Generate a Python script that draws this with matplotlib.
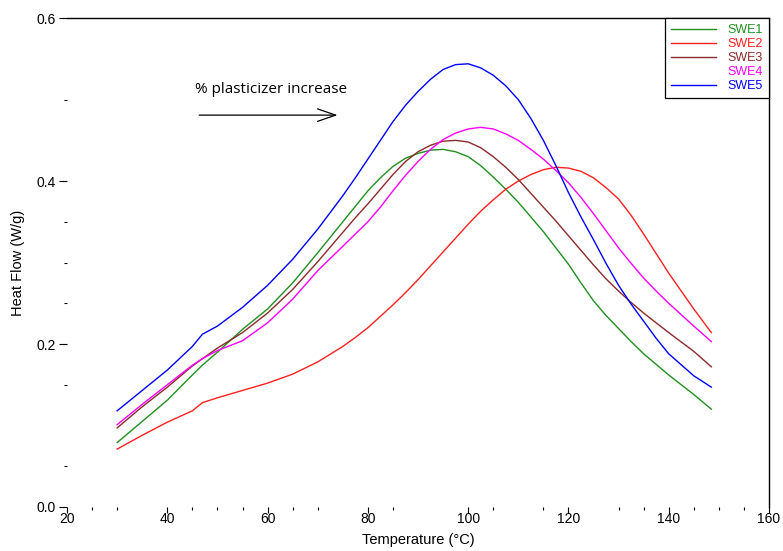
import matplotlib.pyplot as plt
from matplotlib.lines import Line2D

# 数据：温度 (°C) 与各样品热流 (W/g)
temp = [30, 35, 40, 45, 47, 50, 55, 60, 65, 70, 75,
        77.5, 80, 82.5, 85, 87.5, 90, 92.5, 95, 97.5, 100, 102.5, 105, 107.5,
        110, 112.5, 115, 117.5, 120, 122.5, 125, 127.5, 130, 132.5, 135, 137.5,
        140, 145, 148.5]

swe1 = [0.079, 0.105, 0.131, 0.162, 0.174, 0.190, 0.218, 0.243, 0.275, 0.312, 0.350,
        0.369, 0.388, 0.404, 0.418, 0.428, 0.434, 0.438, 0.439, 0.436, 0.430, 0.419,
        0.405, 0.390, 0.374, 0.356, 0.338, 0.318, 0.298, 0.275, 0.253, 0.235, 0.219,
        0.203, 0.188, 0.175, 0.162, 0.138, 0.120]
swe2 = [0.071, 0.088, 0.104, 0.118, 0.128, 0.134, 0.143, 0.152, 0.163, 0.178, 0.197,
        0.208, 0.220, 0.234, 0.248, 0.263, 0.279, 0.296, 0.313, 0.330, 0.347, 0.363,
        0.377, 0.390, 0.400, 0.408, 0.414, 0.417, 0.416, 0.412, 0.404, 0.392, 0.378,
        0.358, 0.335, 0.311, 0.287, 0.243, 0.214]
swe3 = [0.097, 0.123, 0.147, 0.173, 0.182, 0.195, 0.214, 0.238, 0.267, 0.301, 0.337,
        0.355, 0.372, 0.390, 0.408, 0.424, 0.436, 0.444, 0.449, 0.450, 0.448, 0.441,
        0.430, 0.417, 0.402, 0.385, 0.368, 0.351, 0.333, 0.315, 0.297, 0.280, 0.265,
        0.251, 0.238, 0.226, 0.214, 0.191, 0.172]
swe4 = [0.101, 0.126, 0.150, 0.174, 0.182, 0.192, 0.204, 0.226, 0.255, 0.290, 0.320,
        0.335, 0.350, 0.368, 0.388, 0.407, 0.424, 0.439, 0.451, 0.459, 0.464, 0.466,
        0.464, 0.458, 0.450, 0.439, 0.427, 0.413, 0.398, 0.380, 0.360, 0.339, 0.318,
        0.299, 0.281, 0.265, 0.250, 0.222, 0.203]
swe5 = [0.118, 0.143, 0.168, 0.197, 0.212, 0.222, 0.245, 0.272, 0.304, 0.341, 0.382,
        0.404, 0.427, 0.450, 0.473, 0.493, 0.510, 0.525, 0.537, 0.543, 0.544, 0.539,
        0.530, 0.517, 0.500, 0.477, 0.450, 0.419, 0.386, 0.356, 0.328, 0.299, 0.272,
        0.249, 0.228, 0.207, 0.188, 0.161, 0.147]

labels = ['SWE1', 'SWE2', 'SWE3', 'SWE4', 'SWE5']
colors = ['#1f8f1f', '#ff2020', '#8b2a2a', '#ff00ff', '#0000ff']
series = [swe1, swe2, swe3, swe4, swe5]

x_minor = [25, 30, 45, 50, 55, 65, 70, 85, 105, 115, 130, 135, 145, 150, 155]
y_minor = [0.05, 0.15, 0.25, 0.3, 0.35, 0.5]

plt.rcParams['font.family'] = ['Liberation Sans', 'DejaVu Sans']

fig = plt.figure(figsize=(7.83, 5.51), dpi=100)
ax = fig.add_axes([0.0856, 0.080, 0.8965, 0.887])

for y, c in zip(series, colors):
    ax.plot(temp, y, color=c, lw=1.0)

ax.set_xlim(20, 160)
ax.set_ylim(0, 0.6)
ax.set_xticks(range(20, 161, 20))
ax.set_yticks([0.0, 0.2, 0.4, 0.6])
ax.set_xticks(x_minor, minor=True)
ax.set_yticks(y_minor, minor=True)
ax.set_yticklabels(['0.0', '0.2', '0.4', '0.6'])
ax.tick_params(axis='x', which='major', length=4, width=0.8, pad=0, labelsize=10)
ax.tick_params(axis='x', which='minor', length=2.5, width=0.8)
ax.tick_params(axis='y', which='major', length=6, width=0.8, pad=2, labelsize=10)
ax.tick_params(axis='y', which='minor', length=2.5, width=0.8)

ax.spines['left'].set_visible(False)
ax.spines['bottom'].set_visible(False)
ax.spines['top'].set_linewidth(1.0)
ax.spines['right'].set_linewidth(1.0)

ax.set_xlabel('Temperature (°C)', fontsize=10.5, labelpad=5)
ax.set_ylabel('Heat Flow (W/g)', fontsize=10.5, labelpad=8)

# 注释：增塑剂含量增加
ax.text(45.5, 0.512, '% plasticizer increase', fontsize=11,
        family=['Open Sans', 'DejaVu Sans'], va='center', ha='left')
ax.annotate('', xy=(74.5, 0.481), xytext=(45.8, 0.481),
            arrowprops=dict(arrowstyle='->,head_length=1.3,head_width=0.45',
                            color='black', lw=0.9))

handles = []
for c, lab in zip(colors, labels):
    alpha = 0 if lab == 'SWE4' else 1
    handles.append(Line2D([0], [0], color=c, lw=1.0, alpha=alpha))
leg = ax.legend(handles, labels, loc='upper right', borderaxespad=0,
                fancybox=False, edgecolor='black', framealpha=1,
                fontsize=9, handlelength=3.6, handletextpad=0.9,
                labelspacing=0.15, borderpad=0.5)
leg.get_frame().set_linewidth(0.9)
for t, c in zip(leg.get_texts(), colors):
    t.set_color(c)

fig.savefig('out.png', dpi=100)
